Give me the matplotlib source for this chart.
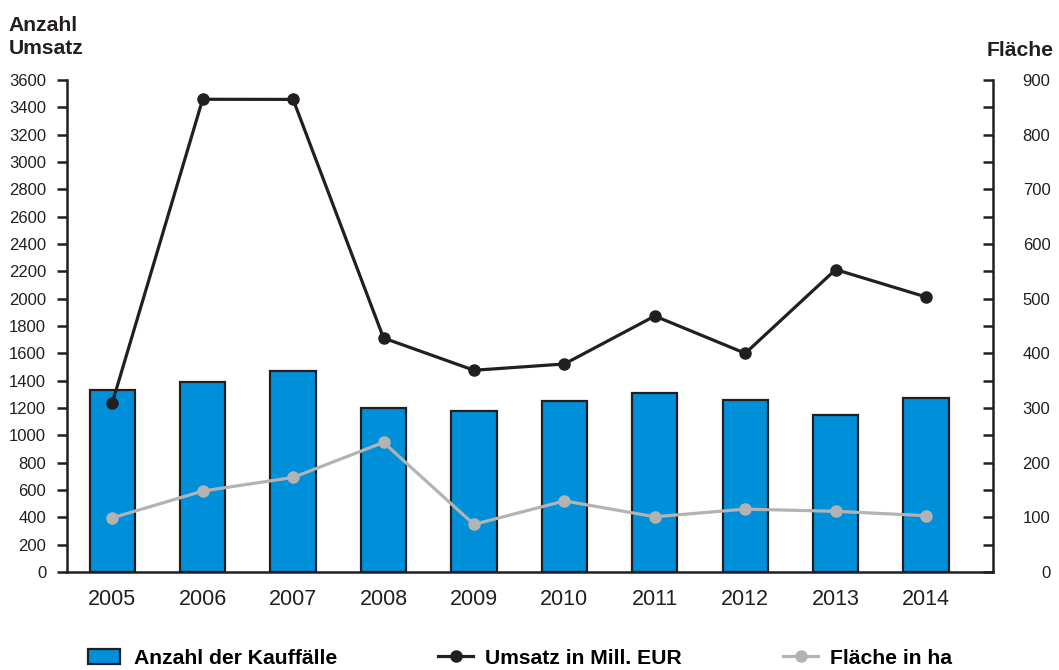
import matplotlib.pyplot as plt
import numpy as np

plt.rcParams['font.family'] = ['Liberation Sans', 'DejaVu Sans']

jahre = ['2005', '2006', '2007', '2008', '2009', '2010', '2011', '2012', '2013', '2014']
kauffaelle = [1329, 1390, 1474, 1198, 1181, 1251, 1313, 1258, 1149, 1271]
umsatz = [1237, 3459, 3458, 1712, 1476, 1522, 1873, 1600, 2213, 2012]
flaeche = [99, 148, 173, 237, 87, 130, 101, 115, 111, 103]

blau = '#008fd9'
schwarz = '#231f20'
grau = '#b3b3b3'

fig = plt.figure(figsize=(10.59, 6.70), dpi=100)
ax = fig.add_axes([0.0633, 0.1463, 0.8744, 0.7343])
ax2 = ax.twinx()

ax.set_xlim(-0.5, 9.74)
ax.set_ylim(0, 3600)
ax2.set_ylim(0, 900)

x = np.arange(len(jahre))
bars = ax.bar(x, kauffaelle, width=0.5, color=blau, edgecolor=schwarz, linewidth=1.6, zorder=2)
# Flaeche gehoert zur rechten Achse, wird aber in ax gezeichnet, damit die Linie ueber den Balken liegt
l2, = ax.plot(x, flaeche, color=grau, lw=2.3, marker='o', ms=8, zorder=3, transform=ax2.transData)
l1, = ax.plot(x, umsatz, color=schwarz, lw=2.3, marker='o', ms=8, zorder=4)

ax.set_zorder(ax2.get_zorder() + 1)
ax.patch.set_visible(False)

ax.set_yticks(np.arange(0, 3601, 200))
ax2.set_yticks(np.arange(0, 901, 100))
ax2.set_yticks(np.arange(0, 901, 50), minor=True)
ax.set_xticks(x)
ax.set_xticklabels(jahre, fontsize=15.5, color=schwarz)

for a in (ax, ax2):
    a.spines['top'].set_visible(False)
    for s in a.spines.values():
        s.set_color(schwarz)
        s.set_linewidth(1.8)
ax.spines['right'].set_visible(False)
ax2.spines['left'].set_visible(False)
ax2.spines['bottom'].set_visible(False)

ax.tick_params(axis='y', direction='out', length=7, width=1.8, labelsize=12, colors=schwarz, pad=8)
ax.tick_params(axis='x', length=0, pad=12)
ax2.tick_params(axis='y', which='both', direction='in', length=7, width=1.8, labelsize=12, colors=schwarz, pad=0)
for lbl in ax2.get_yticklabels():
    lbl.set_horizontalalignment('right')
    lbl.set_x(1.062)

fig.text(0.008, 0.962, 'Anzahl', fontsize=15.2, fontweight='bold', color=schwarz, va='center')
fig.text(0.008, 0.928, 'Umsatz', fontsize=15.2, fontweight='bold', color=schwarz, va='center')
fig.text(0.995, 0.925, 'Fläche', fontsize=15.2, fontweight='bold', color=schwarz, va='center', ha='right')

legendtexte = ['Anzahl der Kauffälle', 'Umsatz in Mill. EUR', 'Fläche in ha']
positionen = [88, 438, 783]
laengen = [1.52, 1.66, 1.66]
abstaende = [0.66, 0.57, 0.57]
for h, t, px, hl, tp in zip([bars, l1, l2], legendtexte, positionen, laengen, abstaende):
    fig.legend(handles=[h], labels=[t], loc='center left', bbox_to_anchor=(px / 1059, 1 - 658 / 670),
               frameon=False, handlelength=hl, handleheight=0.71, handletextpad=tp,
               borderpad=0, borderaxespad=0, prop={'weight': 'bold', 'size': 15.2})

fig.savefig('out.png', dpi=100)
